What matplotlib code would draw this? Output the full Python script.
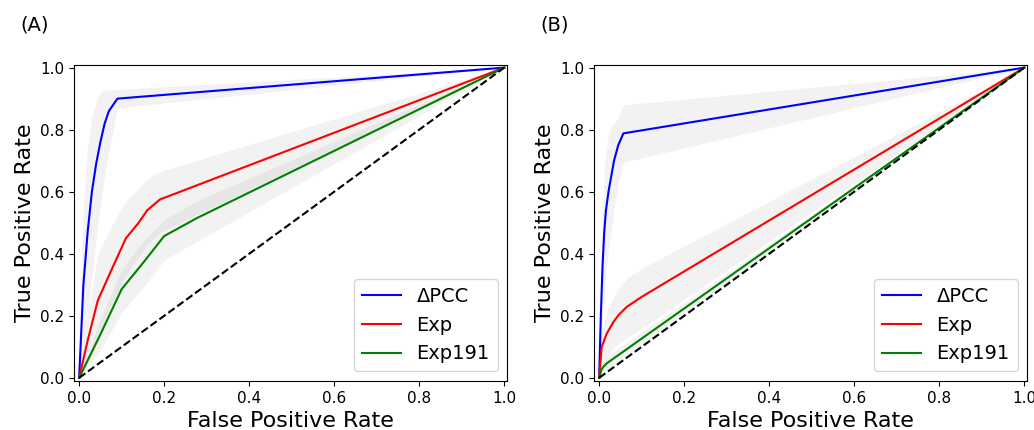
import matplotlib
matplotlib.use("Agg")
import matplotlib.pyplot as plt

# Panel A data
a_pcc_fpr = [0, 0.005, 0.01, 0.02, 0.03, 0.04, 0.05, 0.06, 0.07, 0.09, 1.0]
a_pcc_tpr = [0, 0.15, 0.30, 0.47, 0.60, 0.69, 0.76, 0.82, 0.86, 0.90, 1.0]
a_pcc_lo = [0, 0.03, 0.08, 0.20, 0.33, 0.45, 0.56, 0.65, 0.73, 0.87, 1.0]
a_pcc_hi = [0, 0.35, 0.55, 0.75, 0.84, 0.89, 0.92, 0.93, 0.925, 0.93, 1.0]

a_exp_fpr = [0, 0.02, 0.044, 0.08, 0.11, 0.14, 0.16, 0.19, 1.0]
a_exp_tpr = [0, 0.12, 0.25, 0.36, 0.45, 0.50, 0.54, 0.575, 1.0]
a_exp_lo = [0, 0.06, 0.14, 0.25, 0.33, 0.39, 0.43, 0.47, 1.0]
a_exp_hi = [0, 0.20, 0.40, 0.50, 0.57, 0.61, 0.64, 0.665, 1.0]

a_e191_fpr = [0, 0.05, 0.1, 0.15, 0.2, 0.277, 1.0]
a_e191_tpr = [0, 0.14, 0.286, 0.37, 0.457, 0.515, 1.0]
a_e191_lo = [0, 0.09, 0.21, 0.29, 0.38, 0.44, 1.0]
a_e191_hi = [0, 0.19, 0.35, 0.44, 0.51, 0.57, 1.0]

# Panel B data
b_pcc_fpr = [0, 0.004, 0.008, 0.012, 0.016, 0.022, 0.028, 0.035, 0.045, 0.057, 1.0]
b_pcc_tpr = [0, 0.20, 0.36, 0.47, 0.54, 0.60, 0.646, 0.70, 0.75, 0.788, 1.0]
b_pcc_lo = [0, 0.08, 0.18, 0.27, 0.34, 0.41, 0.47, 0.55, 0.63, 0.695, 1.0]
b_pcc_hi = [0, 0.35, 0.55, 0.66, 0.73, 0.78, 0.807, 0.82, 0.84, 0.88, 1.0]

b_exp_fpr = [0, 0.006, 0.018, 0.034, 0.046, 0.065, 0.1, 1.0]
b_exp_tpr = [0, 0.10, 0.143, 0.181, 0.203, 0.229, 0.261, 1.0]
b_exp_lo = [0, 0.05, 0.07, 0.095, 0.111, 0.13, 0.16, 1.0]
b_exp_hi = [0, 0.15, 0.21, 0.26, 0.288, 0.32, 0.353, 1.0]

b_e191_fpr = [0, 0.005, 0.01, 0.018, 1.0]
b_e191_tpr = [0, 0.025, 0.036, 0.047, 1.0]
b_e191_lo = [0, 0.008, 0.015, 0.025, 1.0]
b_e191_hi = [0, 0.04, 0.055, 0.07, 1.0]

panels = [
    ("(A)", [(a_pcc_fpr, a_pcc_tpr, a_pcc_lo, a_pcc_hi),
             (a_exp_fpr, a_exp_tpr, a_exp_lo, a_exp_hi),
             (a_e191_fpr, a_e191_tpr, a_e191_lo, a_e191_hi)]),
    ("(B)", [(b_pcc_fpr, b_pcc_tpr, b_pcc_lo, b_pcc_hi),
             (b_exp_fpr, b_exp_tpr, b_exp_lo, b_exp_hi),
             (b_e191_fpr, b_e191_tpr, b_e191_lo, b_e191_hi)]),
]
names = ["ΔPCC", "Exp", "Exp191"]
farger = ["blue", "red", "green"]

fig = plt.figure(figsize=(10.34, 4.3), dpi=100)
lefts = [0.0716, 0.5745]
labelx = [20 / 1034, 540 / 1034]

for i, (tag, serier) in enumerate(panels):
    ax = fig.add_axes([lefts[i], 0.114, 0.419, 0.736])
    for (fpr, tpr, lo, hi), namn, f in zip(serier, names, farger):
        ax.fill_between(fpr, lo, hi, color="grey", alpha=0.1, linewidth=0)
    for (fpr, tpr, lo, hi), namn, f in zip(serier, names, farger):
        ax.plot(fpr, tpr, color=f, label=namn, linewidth=1.5)
    ax.plot([0, 1], [0, 1], "k--", linewidth=1.5)
    ax.set_xlim(-0.012, 1.007)
    ax.set_ylim(-0.01, 1.01)
    ax.set_xticks([0, 0.2, 0.4, 0.6, 0.8, 1.0])
    ax.set_yticks([0, 0.2, 0.4, 0.6, 0.8, 1.0])
    ax.tick_params(labelsize=11)
    ax.set_xlabel("False Positive Rate", fontsize=16)
    ax.set_ylabel("True Positive Rate", fontsize=16)
    ax.legend(loc="lower right", fontsize=14)
    fig.text(labelx[i], 1 - 25 / 430, tag, fontsize=14, va="center", ha="left")

plt.savefig("out.png", dpi=100)
